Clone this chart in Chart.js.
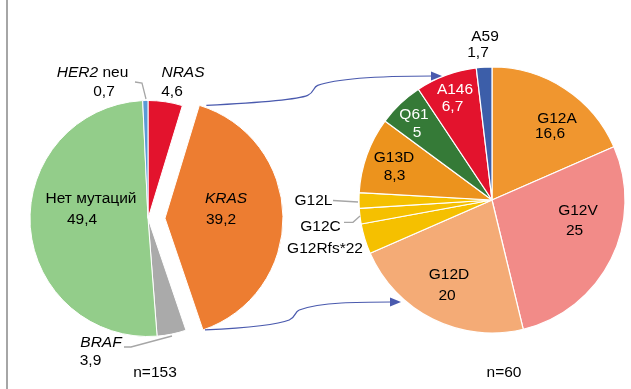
<!DOCTYPE html>
<html>
<head>
<meta charset="utf-8">
<script src="https://cdn.jsdelivr.net/npm/chart.js@4.4.1/dist/chart.umd.min.js"></script>
<style>
  html, body { margin: 0; padding: 0; background: #fff; }
  #wrap { position: relative; width: 631px; height: 389px; overflow: hidden; }
  #wrap canvas { position: absolute; left: 0; top: 0; }
  #edge { position: absolute; left: 6px; top: 0; width: 2px; height: 389px; background: #a6a6a6; }
</style>
</head>
<body>
<div id="wrap">
  <div id="edge"></div>
  <canvas id="mutPie" width="631" height="389"></canvas>
  <canvas id="krasPie" width="631" height="389"></canvas>
</div>
<script>
// все пациенты, n=153 (%)
const mutLabels = ['NRAS', 'KRAS', 'BRAF', 'Нет мутаций', 'HER2 neu'];
const mutValues = [4.6, 39.2, 3.9, 49.4, 0.7];
const mutItalic = ['NRAS', 'KRAS', 'BRAF', '', 'HER2'];
const mutColors = ['#e3132d', '#ed7d31', '#aaaaaa', '#93cd8a', '#5b9bd5'];

// мутации KRAS, n=60 (%)
const krasLabels = ['G12A', 'G12V', 'G12D', 'G12Rfs*22', 'G12C', 'G12L', 'G13D', 'Q61', 'A146', 'A59'];
const krasValues = [16.6, 25, 20, 3.3, 1.7, 1.7, 8.3, 5, 6.7, 1.7];
const krasShowValue = [true, true, true, false, false, false, true, true, true, true];
const krasColors = ['#f0962f', '#f28b88', '#f4ab76', '#f5c000', '#f5c000', '#f5c000',
                    '#ec931d', '#357a37', '#e3132d', '#3c5ea9'];

const FONT = '15.5px "Liberation Sans", Arial, sans-serif';
const FONT_I = 'italic 15.5px "Liberation Sans", Arial, sans-serif';
const fmt = v => String(v).replace('.', ',');

// положение подписей относительно центра круга: [dx, dy]
const mutPlace = [
    { name: [35, -145.5], value: [24, -126.5] },
    { name: [78, -19.5], value: [73, 1.5] },
    { name: [-47, 124.5], value: [-57.5, 142.5] },
    { name: [-57, -19.5], value: [-66, 1.5] },
    { name: [-55.5, -145.5], value: [-44, -126.5] }
];
const mutLeaders = [
    [[-13, -136.5], [-6, -135.5], [-2, -119.5]],
    [[-24, 128.5], [-17, 128.5], [24, 117.5]]
];
const krasPlace = [
    { name: [65, -81], value: [58, -66] },
    { name: [86, 11], value: [82.5, 31] },
    { name: [-43, 75], value: [-45, 96] },
    { name: [-167, 49] },
    { name: [-171.5, 27] },
    { name: [-178.5, 1] },
    { name: [-98, -42], value: [-97.5, -24] },
    { name: [-78, -85], value: [-75, -67], color: '#ffffff' },
    { name: [-37, -110], value: [-39.5, -93], color: '#ffffff' },
    { name: [-7, -163], value: [-14, -147] }
];
const krasLeaders = [
    [[-159, 0.5], [-134, 2]],
    [[-148, 22.3], [-139, 22.3], [-132, 16]]
];

function drawText(ctx, parts, x, y) {
    // parts: [[text, italic], ...], centred on x
    let w = 0;
    parts.forEach(p => { ctx.font = p[1] ? FONT_I : FONT; w += ctx.measureText(p[0]).width; });
    let cx = x - w / 2;
    ctx.textAlign = 'left';
    ctx.textBaseline = 'middle';
    parts.forEach(p => {
        ctx.font = p[1] ? FONT_I : FONT;
        ctx.fillText(p[0], cx, y);
        cx += ctx.measureText(p[0]).width;
    });
}

function drawLeaders(ctx, cx, cy, leaders) {
    ctx.save();
    ctx.strokeStyle = '#a6a6a6';
    ctx.lineWidth = 1.3;
    leaders.forEach(pts => {
        ctx.beginPath();
        pts.forEach((p, i) => {
            if (i === 0) ctx.moveTo(cx + p[0], cy + p[1]);
            else ctx.lineTo(cx + p[0], cy + p[1]);
        });
        ctx.stroke();
    });
    ctx.restore();
}

// выдвинутый сектор KRAS
const explodePlugin = {
    id: 'explode',
    afterDatasetUpdate(chart, args, opts) {
        if (opts.index == null) return;
        const arc = chart.getDatasetMeta(0).data[opts.index];
        const mid = (arc.startAngle + arc.endAngle) / 2;
        arc.x += Math.cos(mid) * opts.distance;
        arc.y += Math.sin(mid) * opts.distance;
    }
};

const labelPlugin = {
    id: 'sliceLabels',
    afterDraw(chart, args, opts) {
        const ctx = chart.ctx;
        const meta = chart.getDatasetMeta(0);
        const base = meta.data[opts.centerIndex];
        const cx = base.x, cy = base.y;
        ctx.save();
        drawLeaders(ctx, cx, cy, opts.leaders);
        const labels = chart.data.labels;
        const values = chart.data.datasets[0].data;
        opts.place.forEach((pl, i) => {
            ctx.fillStyle = pl.color || '#000000';
            const name = labels[i];
            const it = opts.italic ? opts.italic[i] : '';
            let parts;
            if (it && name.startsWith(it)) {
                parts = [[it, true]];
                if (name.length > it.length) parts.push([name.slice(it.length), false]);
            } else {
                parts = [[name, false]];
            }
            drawText(ctx, parts, cx + pl.name[0], cy + pl.name[1]);
            if (pl.value && (!opts.showValue || opts.showValue[i])) {
                drawText(ctx, [[fmt(values[i]), false]], cx + pl.value[0], cy + pl.value[1]);
            }
        });
        ctx.fillStyle = '#000000';
        drawText(ctx, [[opts.footer, false]], cx + opts.footerAt[0], cy + opts.footerAt[1]);
        ctx.restore();
    }
};

const mutChart = new Chart(document.getElementById('mutPie'), {
    type: 'pie',
    data: {
        labels: mutLabels,
        datasets: [{
            data: mutValues,
            backgroundColor: mutColors,
            borderColor: '#ffffff',
            borderWidth: 1
        }]
    },
    options: {
        responsive: false,
        animation: false,
        radius: 118,
        layout: { padding: { left: 30, right: 365, top: 100, bottom: 52 } },
        plugins: {
            legend: { display: false },
            tooltip: { enabled: false },
            explode: { index: 1, distance: 17 },
            sliceLabels: {
                centerIndex: 0,
                place: mutPlace,
                italic: mutItalic,
                leaders: mutLeaders,
                footer: 'n=153',
                footerAt: [7, 154.5]
            }
        }
    },
    plugins: [explodePlugin, labelPlugin]
});

// стрелки от KRAS к правому кругу
function arrowPath(ctx, s, e) {
    const k1 = [s[0] + (e[0] - s[0]) * 0.43, s[1] - 10];
    const k2 = [k1[0] + 10, s[1] - 20];
    const t = [e[0] - 9, e[1]];
    ctx.beginPath();
    ctx.moveTo(s[0], s[1]);
    ctx.bezierCurveTo(s[0] + 40, s[1] - 2, k1[0] - 12, k1[1] + 5, k1[0], k1[1]);
    ctx.bezierCurveTo(k1[0] + 7, k1[1] - 3, k2[0] - 5, k2[1] + 2, k2[0], k2[1]);
    ctx.bezierCurveTo(k2[0] + 22, k2[1] - 8, t[0] - 32, t[1], t[0], t[1]);
    ctx.stroke();
    ctx.beginPath();
    ctx.moveTo(e[0], e[1]);
    ctx.lineTo(e[0] - 11, e[1] - 4.5);
    ctx.lineTo(e[0] - 11, e[1] + 4.5);
    ctx.closePath();
    ctx.fill();
}

const arrowPlugin = {
    id: 'arrows',
    afterDraw(chart) {
        const kras = mutChart.getDatasetMeta(0).data[1];
        const r = kras.outerRadius;
        const top = [kras.x + r * Math.cos(kras.startAngle) + 7, kras.y + r * Math.sin(kras.startAngle)];
        const bot = [kras.x + r * Math.cos(kras.endAngle) + 2, kras.y + r * Math.sin(kras.endAngle)];
        const c = chart.getDatasetMeta(0).data[0];
        const ctx = chart.ctx;
        ctx.save();
        ctx.strokeStyle = '#4a5aae';
        ctx.fillStyle = '#4a5aae';
        ctx.lineWidth = 1.2;
        arrowPath(ctx, top, [c.x - 50, c.y - 124]);
        arrowPath(ctx, bot, [c.x - 91, c.y + 102]);
        ctx.restore();
    }
};

new Chart(document.getElementById('krasPie'), {
    type: 'pie',
    data: {
        labels: krasLabels,
        datasets: [{
            data: krasValues,
            backgroundColor: krasColors,
            borderColor: '#ffffff',
            borderWidth: 1.2
        }]
    },
    options: {
        responsive: false,
        animation: false,
        radius: 133,
        layout: { padding: { left: 359, right: 6, top: 67, bottom: 56 } },
        plugins: {
            legend: { display: false },
            tooltip: { enabled: false },
            sliceLabels: {
                centerIndex: 0,
                place: krasPlace,
                showValue: krasShowValue,
                leaders: krasLeaders,
                footer: 'n=60',
                footerAt: [12, 173]
            }
        }
    },
    plugins: [labelPlugin, arrowPlugin]
});
</script>
</body>
</html>
